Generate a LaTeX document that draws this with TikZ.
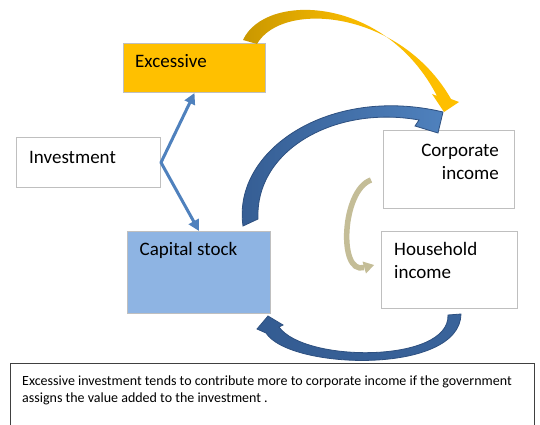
\documentclass[tikz,border=0pt]{standalone}
\usepackage{fontspec}
\setmainfont{Carlito}
\usetikzlibrary{arrows.meta}
\definecolor{gold}{HTML}{FFC000}
\definecolor{goldD}{HTML}{C99700}
\definecolor{boxgray}{HTML}{BFBFBF}
\definecolor{capblue}{HTML}{8EB4E3}
\definecolor{lineblue}{HTML}{4F81BD}
\definecolor{arcD}{HTML}{345C92}
\definecolor{arcL}{HTML}{4F81BD}
\definecolor{arcEdge}{HTML}{2E5080}
\definecolor{khaki}{HTML}{C4BD97}
\begin{document}
\begin{tikzpicture}[x=1pt,y=-1pt,
  box/.style={draw=boxgray, line width=1pt, rectangle, inner sep=0pt, anchor=north west},
  lbl/.style={font=\fontsize{19}{23}\selectfont, inner sep=0pt},
  note/.style={font=\fontsize{14}{17}\selectfont, inner sep=0pt, anchor=base west},
  invarrow/.style={draw=lineblue, line width=3pt, line join=round,
    {Triangle[length=11pt,width=11pt]}-{Triangle[length=11pt,width=11pt]}},
  arcshape/.style={left color=arcD, right color=arcL, draw=arcEdge, line width=0.8pt}]
\useasboundingbox (0,0) rectangle (540,425);
\clip (0,0) rectangle (540,425);
\fill[white] (0,0) rectangle (540,425);

% boxes
\node[box, fill=gold, minimum width=142pt, minimum height=49pt] (exc) at (123,43) {};
\node[box, fill=white, minimum width=144pt, minimum height=50pt] (inv) at (16,137) {};
\node[box, fill=capblue, minimum width=143pt, minimum height=82pt] (cap) at (127,231) {};
\node[box, fill=white, minimum width=131pt, minimum height=78pt] (corp) at (383,130) {};
\node[box, fill=white, minimum width=136pt, minimum height=77pt] (house) at (381,231) {};
\node[box, draw=black!75, fill=white, minimum width=524pt, minimum height=80pt] (notebox) at (10,363) {};

% labels
\node[lbl, anchor=base west] (texc) at (135,68) {Excessive};
\node[lbl, anchor=base west] (tinv) at (29,163) {Investment};
\node[lbl, anchor=base west] (tcap) at (139.5,255) {Capital stock};
\node[lbl, anchor=base east] (tcorp1) at (499,156) {Corporate};
\node[lbl, anchor=base east] (tcorp2) at (499,179) {income};
\node[lbl, anchor=base west] (thouse1) at (394,255) {Household};
\node[lbl, anchor=base west] (thouse2) at (394,278) {income};
\node[note] (note1) at (22,385.5) {Excessive investment tends to contribute more to corporate income if the government};
\node[note] (note2) at (22,402) {assigns the value added to the investment .};

% investment fork
\draw[invarrow] (exc.south) -- (inv.east) -- (cap.north);

% yellow curved arrow
\shade[left color=goldD, right color=gold, middle color=gold!85!goldD]
  (243,40) .. controls (265,-8) and (385,-5) .. (437,96) -- (432,94) -- (444,112) -- (459,102) -- (451,99)
  .. controls (400,10) and (282,0) .. (257,44) -- cycle;

% blue upper arc
\shadedraw[arcshape]
  (243,226) .. controls (232,150) and (330,85) .. (443,112) -- (438,133) -- (415,126) -- (419,120)
  .. controls (335,105) and (255,150) .. (258,219) -- cycle;

% blue lower arc
\shadedraw[left color=arcD, right color=arcD!80!arcL, draw=arcEdge, line width=0.8pt]
  (461,314) .. controls (460,375) and (290,370) .. (266,333) -- (257,329) -- (268,316) -- (283,325) -- (279,327)
  .. controls (305,363) and (450,363) .. (448,315) -- cycle;

% khaki arrow
\draw[khaki, line width=5.5pt] (371,180) .. controls (342,190) and (338,275) .. (364,267.5);
\fill[khaki] (362.5,261.5) -- (374,265) -- (366,273.5) -- cycle;
\end{tikzpicture}
\end{document}
